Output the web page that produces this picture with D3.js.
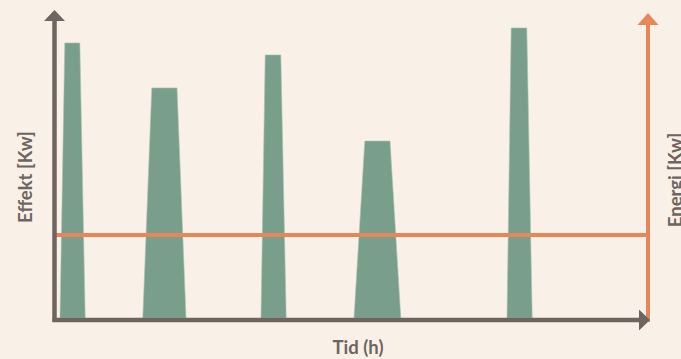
<!DOCTYPE html>
<html><head><meta charset="utf-8">
<script src="https://cdn.jsdelivr.net/npm/d3@7"></script>
<style>
html,body{margin:0;padding:0;background:#F9F1E8;}
svg{display:block;}
</style></head>
<body>
<script>
// Peaks: times (x units) where each effect pulse starts, reaches top, leaves top, ends; and peak power
const peakStart = [1.0, 14.8, 34.5, 50.0, 75.5];
const peakTopStart = [1.8, 16.3, 35.2, 51.8, 76.2];
const peakTopEnd = [4.3, 20.5, 37.8, 56.0, 78.8];
const peakEnd = [5.2, 22.0, 38.7, 57.8, 79.7];
const peakPower = [91.7, 76.7, 87.7, 59.0, 96.7];
const energyLevel = 27.7;
const labels = {left: "Effekt [Kw]", right: "Energi [Kw]", bottom: "Tid (h)"};

const W = 681, H = 359;
const svg = d3.select("body").append("svg").attr("width", W).attr("height", H);
svg.append("rect").attr("width", W).attr("height", H).attr("fill", "#F9F1E8");

const x = d3.scaleLinear().domain([0, 100]).range([54, 654]);
const y = d3.scaleLinear().domain([0, 100]).range([318, 18]);

const green = "#7A9E8C", orange = "#E5875A", gray = "#6E6561";

// peaks
const area = d3.line().x(d => x(d[0])).y(d => y(d[1]));
peakStart.forEach((s, i) => {
  const pts = [[s, 0], [peakTopStart[i], peakPower[i]], [peakTopEnd[i], peakPower[i]], [peakEnd[i], 0]];
  svg.append("path").attr("d", area(pts) + "Z")
    .attr("fill", green).attr("stroke", "#a9c2b4").attr("stroke-width", 0.6);
});

// energy line
svg.append("line")
  .attr("x1", x(0) + 2).attr("x2", x(99))
  .attr("y1", y(energyLevel)).attr("y2", y(energyLevel))
  .attr("stroke", orange).attr("stroke-width", 4);

// right axis (orange)
const rx = x(99);
svg.append("line").attr("x1", rx).attr("x2", rx).attr("y1", 322).attr("y2", 24)
  .attr("stroke", orange).attr("stroke-width", 4);
svg.append("path").attr("d", `M${rx},13 L${rx + 10.5},25 L${rx - 10.5},25 Z`).attr("fill", orange);

// left axis
const lx = x(0) + 0.5;
svg.append("line").attr("x1", lx).attr("x2", lx).attr("y1", 322).attr("y2", 19)
  .attr("stroke", gray).attr("stroke-width", 4.5);
svg.append("path").attr("d", `M${lx},10 L${lx + 10.5},21 L${lx - 10.5},21 Z`).attr("fill", gray);

// x axis
svg.append("line").attr("x1", lx - 2).attr("x2", 640).attr("y1", 320).attr("y2", 320)
  .attr("stroke", gray).attr("stroke-width", 4.5);
svg.append("path").attr("d", `M650,320 L639,309.5 L639,330.5 Z`).attr("fill", gray);

// labels
const font = "Lato, 'Open Sans', sans-serif";
svg.append("text").attr("transform", "translate(32,177) rotate(-90)")
  .attr("text-anchor", "middle").attr("font-family", font).attr("font-weight", "bold")
  .attr("font-size", 18.5).attr("fill", gray).text(labels.left);
svg.append("text").attr("transform", "translate(682,180) rotate(-90)")
  .attr("text-anchor", "middle").attr("font-family", font).attr("font-weight", "bold")
  .attr("font-size", 18.5).attr("fill", gray).text(labels.right);
svg.append("text").attr("x", 358).attr("y", 354)
  .attr("text-anchor", "middle").attr("font-family", font).attr("font-weight", "bold")
  .attr("font-size", 18.5).attr("fill", gray).text(labels.bottom);
</script>
</body></html>
